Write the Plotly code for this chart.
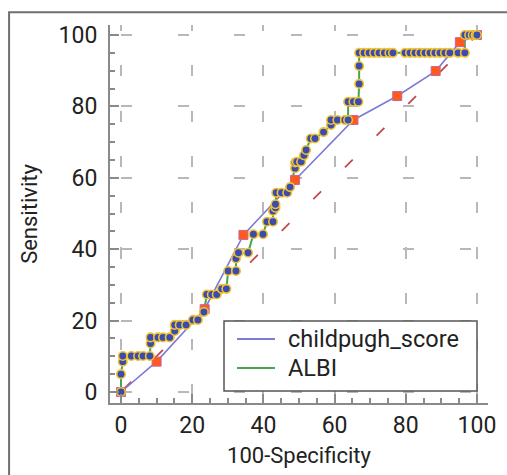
import plotly.graph_objects as go

# ---- data ----
childpugh_x = [0, 10.0, 23.5, 34.4, 48.9, 65.3, 77.6, 88.4, 95.2, 100]
childpugh_y = [0, 8.5, 23.2, 44.0, 59.4, 76.2, 82.9, 89.9, 98.0, 100]

albi_x = [0, 0, 0.5, 0.5, 2.9, 4.8, 6.2, 8.1, 8.3, 8.3, 10.4, 11.8, 13.7,
          15.1, 15.1, 16.5, 18.3, 20.2, 21.6, 23.3, 24.1, 25.5, 26.9,
          28.3, 29.6, 30.1, 32.3, 32.3, 33.0, 35.7, 37.2, 39.9, 41.0, 42.7,
          42.7, 43.4, 43.4, 43.6, 45.1, 46.7, 47.5, 48.9, 48.9, 49.4, 50.6,
          51.4, 52.0, 53.3, 54.5, 56.9, 59.0, 59.0, 60.8, 62.9, 63.8, 63.8,
          65.3, 66.7, 66.9, 66.9, 66.9, 68.3, 69.7, 71.1, 72.5, 74.0, 75.4,
          76.4, 79.8, 81.2, 82.6, 84.0, 85.4, 86.8, 88.2, 89.6, 91.0, 92.4,
          94.7, 96.6, 96.6, 97.8, 98.8, 99.6, 100]
albi_y = [0, 5.0, 8.5, 10.1, 10.1, 10.1, 10.1, 10.1, 13.6, 15.3, 15.3, 15.3, 15.3,
          17.1, 18.8, 18.8, 18.8, 20.2, 20.2, 22.4, 27.3, 27.3, 27.3,
          28.9, 28.9, 33.9, 33.9, 37.4, 39.0, 39.0, 44.2, 44.2, 47.7, 47.7,
          50.7, 51.6, 52.6, 55.8, 55.8, 55.8, 57.4, 62.7, 64.3, 64.5, 64.5,
          66.3, 67.8, 71.0, 71.0, 72.8, 74.8, 76.2, 76.2, 76.2, 76.2, 81.3,
          81.3, 81.3, 86.3, 91.3, 95.0, 95.0, 95.0, 95.0, 95.0, 95.0, 95.0,
          95.0, 95.0, 95.0, 95.0, 95.0, 95.0, 95.0, 95.0, 95.0, 95.0, 95.0,
          95.0, 95.0, 100, 100, 100, 100, 100]

diag_x = [0, 100]
diag_y = [0, 100]

tick_vals = [0, 20, 40, 60, 80, 100]
series_names = ["childpugh_score", "ALBI"]
series_colors = ["#7b7bd8", "#43a84a"]
x_title = "100-Specificity"
y_title = "Sensitivity"

FONT = "Roboto"
fig = go.Figure()

fig.add_trace(go.Scatter(x=diag_x, y=diag_y, mode="lines", showlegend=False,
                         line=dict(color="#c44a4a", width=1.8, dash="0px,3.6px,11px,30.2px"),
                         hoverinfo="skip"))
fig.add_trace(go.Scatter(x=childpugh_x, y=childpugh_y, mode="lines", name=series_names[0],
                         showlegend=False, line=dict(color=series_colors[0], width=1.6)))
fig.add_trace(go.Scatter(x=albi_x, y=albi_y, mode="lines", name=series_names[1],
                         showlegend=False, line=dict(color=series_colors[1], width=2)))
fig.add_trace(go.Scatter(x=childpugh_x, y=childpugh_y, mode="markers", showlegend=False,
                         name=series_names[0],
                         marker=dict(symbol="square", size=9, color="#ff5a1c",
                                     line=dict(color="#c8649a", width=1))))
fig.add_trace(go.Scatter(x=albi_x, y=albi_y, mode="markers", showlegend=False,
                         name=series_names[1],
                         marker=dict(symbol="circle", size=8.5, color="#3a4cb0",
                                     line=dict(color="#f2c230", width=1.6))))

axis_common = dict(
    showline=True, linecolor="#8a8a8a", linewidth=2,
    ticks="inside", ticklen=9, tickwidth=2, tickcolor="#8a8a8a",
    tickvals=tick_vals, tickfont=dict(family=FONT, size=23, color="#222"),
    showgrid=True, gridcolor="#b8b8b8", gridwidth=2,
    zeroline=False, mirror=False,
    minor=dict(ticks="inside", ticklen=5, tickwidth=2, tickcolor="#8a8a8a", dtick=5, showgrid=False),
)

fig.update_xaxes(range=[-3.09, 103.1], griddash="5.5px,34.6px,5.5px,0px",
                 title=dict(text=x_title, font=dict(family=FONT, size=22, color="#222"), standoff=10),
                 **axis_common)
fig.update_yaxes(range=[-3.08, 102.8], griddash="0px,11px,11px,34.5px",
                 title=dict(text=y_title, font=dict(family=FONT, size=22, color="#222"), standoff=15),
                 ticklabelstandoff=6,
                 **axis_common)

# legend box drawn in paper coordinates (plot area: 378 x 378 px)
shapes = [dict(type="rect", xref="paper", yref="paper",
               x0=-0.267, x1=1.08, y0=-0.25, y1=1.034,
               line=dict(color="#707070", width=2), fillcolor="rgba(0,0,0,0)", layer="below"),
          dict(type="rect", xref="paper", yref="paper",
               x0=0.3016, x1=0.9709, y0=0.0317, y1=0.2169,
               line=dict(color="#555", width=1.5), fillcolor="white", layer="above")]
annotations = []
legend_rows_y = [0.1693, 0.0926]
for name, color, yy in zip(series_names, series_colors, legend_rows_y):
    shapes.append(dict(type="line", xref="paper", yref="paper", x0=0.336, x1=0.4365,
                       y0=yy, y1=yy, line=dict(color=color, width=2), layer="above"))
    annotations.append(dict(xref="paper", yref="paper", x=0.4660, y=yy, text=name,
                            showarrow=False, xanchor="left", yanchor="middle",
                            font=dict(family=FONT, size=23.5, color="#222")))

fig.update_layout(
    width=507, height=475,
    margin=dict(l=110, r=19, t=25, b=72),
    paper_bgcolor="white", plot_bgcolor="white",
    font=dict(family=FONT, size=22, color="#222"),
    showlegend=False,
    shapes=shapes,
    annotations=annotations,
)

fig.write_html("out.html")
